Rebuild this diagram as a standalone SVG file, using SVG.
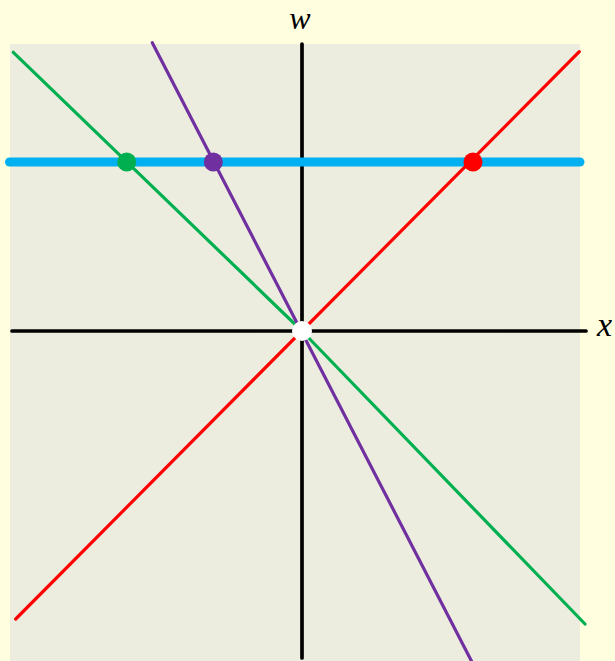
<svg xmlns="http://www.w3.org/2000/svg" width="615" height="661" viewBox="0 0 615 661">
<style>
.ln{fill:none;stroke-width:3.2;stroke-linecap:round;stroke-linejoin:round}
.ax{fill:none;stroke:#000;stroke-width:3.7;stroke-linecap:round}
</style>
<rect width="615" height="661" fill="#FFFFE0"/>
<rect id="plot" x="10" y="44" width="570" height="617" fill="#EDEDDF"/>
<g id="axes">
<line class="ax" x1="12" y1="331" x2="586" y2="331"/>
<line class="ax" x1="302" y1="44" x2="302" y2="658"/>
<text x="300" y="29" text-anchor="middle" font-family="Liberation Serif, Times New Roman, serif" font-style="italic" font-size="32" fill="#000">w</text>
<text x="597" y="336" font-family="Liberation Serif, Times New Roman, serif" font-style="italic" font-size="34" fill="#000">x</text>
</g>
<g id="connectors">
<line x1="9.5" y1="162" x2="580" y2="162" style="stroke:#00B0F0;stroke-width:9;stroke-linecap:round"/>
<polyline class="ln" points="13.3,52.3 302,331 585,624" stroke="#00B050"/>
<line class="ln" x1="152.3" y1="42.7" x2="473" y2="664" stroke="#7030A0"/>
<line class="ln" x1="15.7" y1="619" x2="579.3" y2="51.7" stroke="#FF0000"/>
</g>
<g id="dot-green"><circle cx="126.7" cy="162" r="9.5" fill="#00B050"/></g>
<g id="dot-purple"><circle cx="213.3" cy="162" r="9.5" fill="#7030A0"/></g>
<g id="dot-red"><circle cx="473" cy="162" r="9.5" fill="#FF0000"/></g>
<g id="origin"><circle cx="302" cy="331" r="10" fill="#FFFFFF"/></g>
</svg>
